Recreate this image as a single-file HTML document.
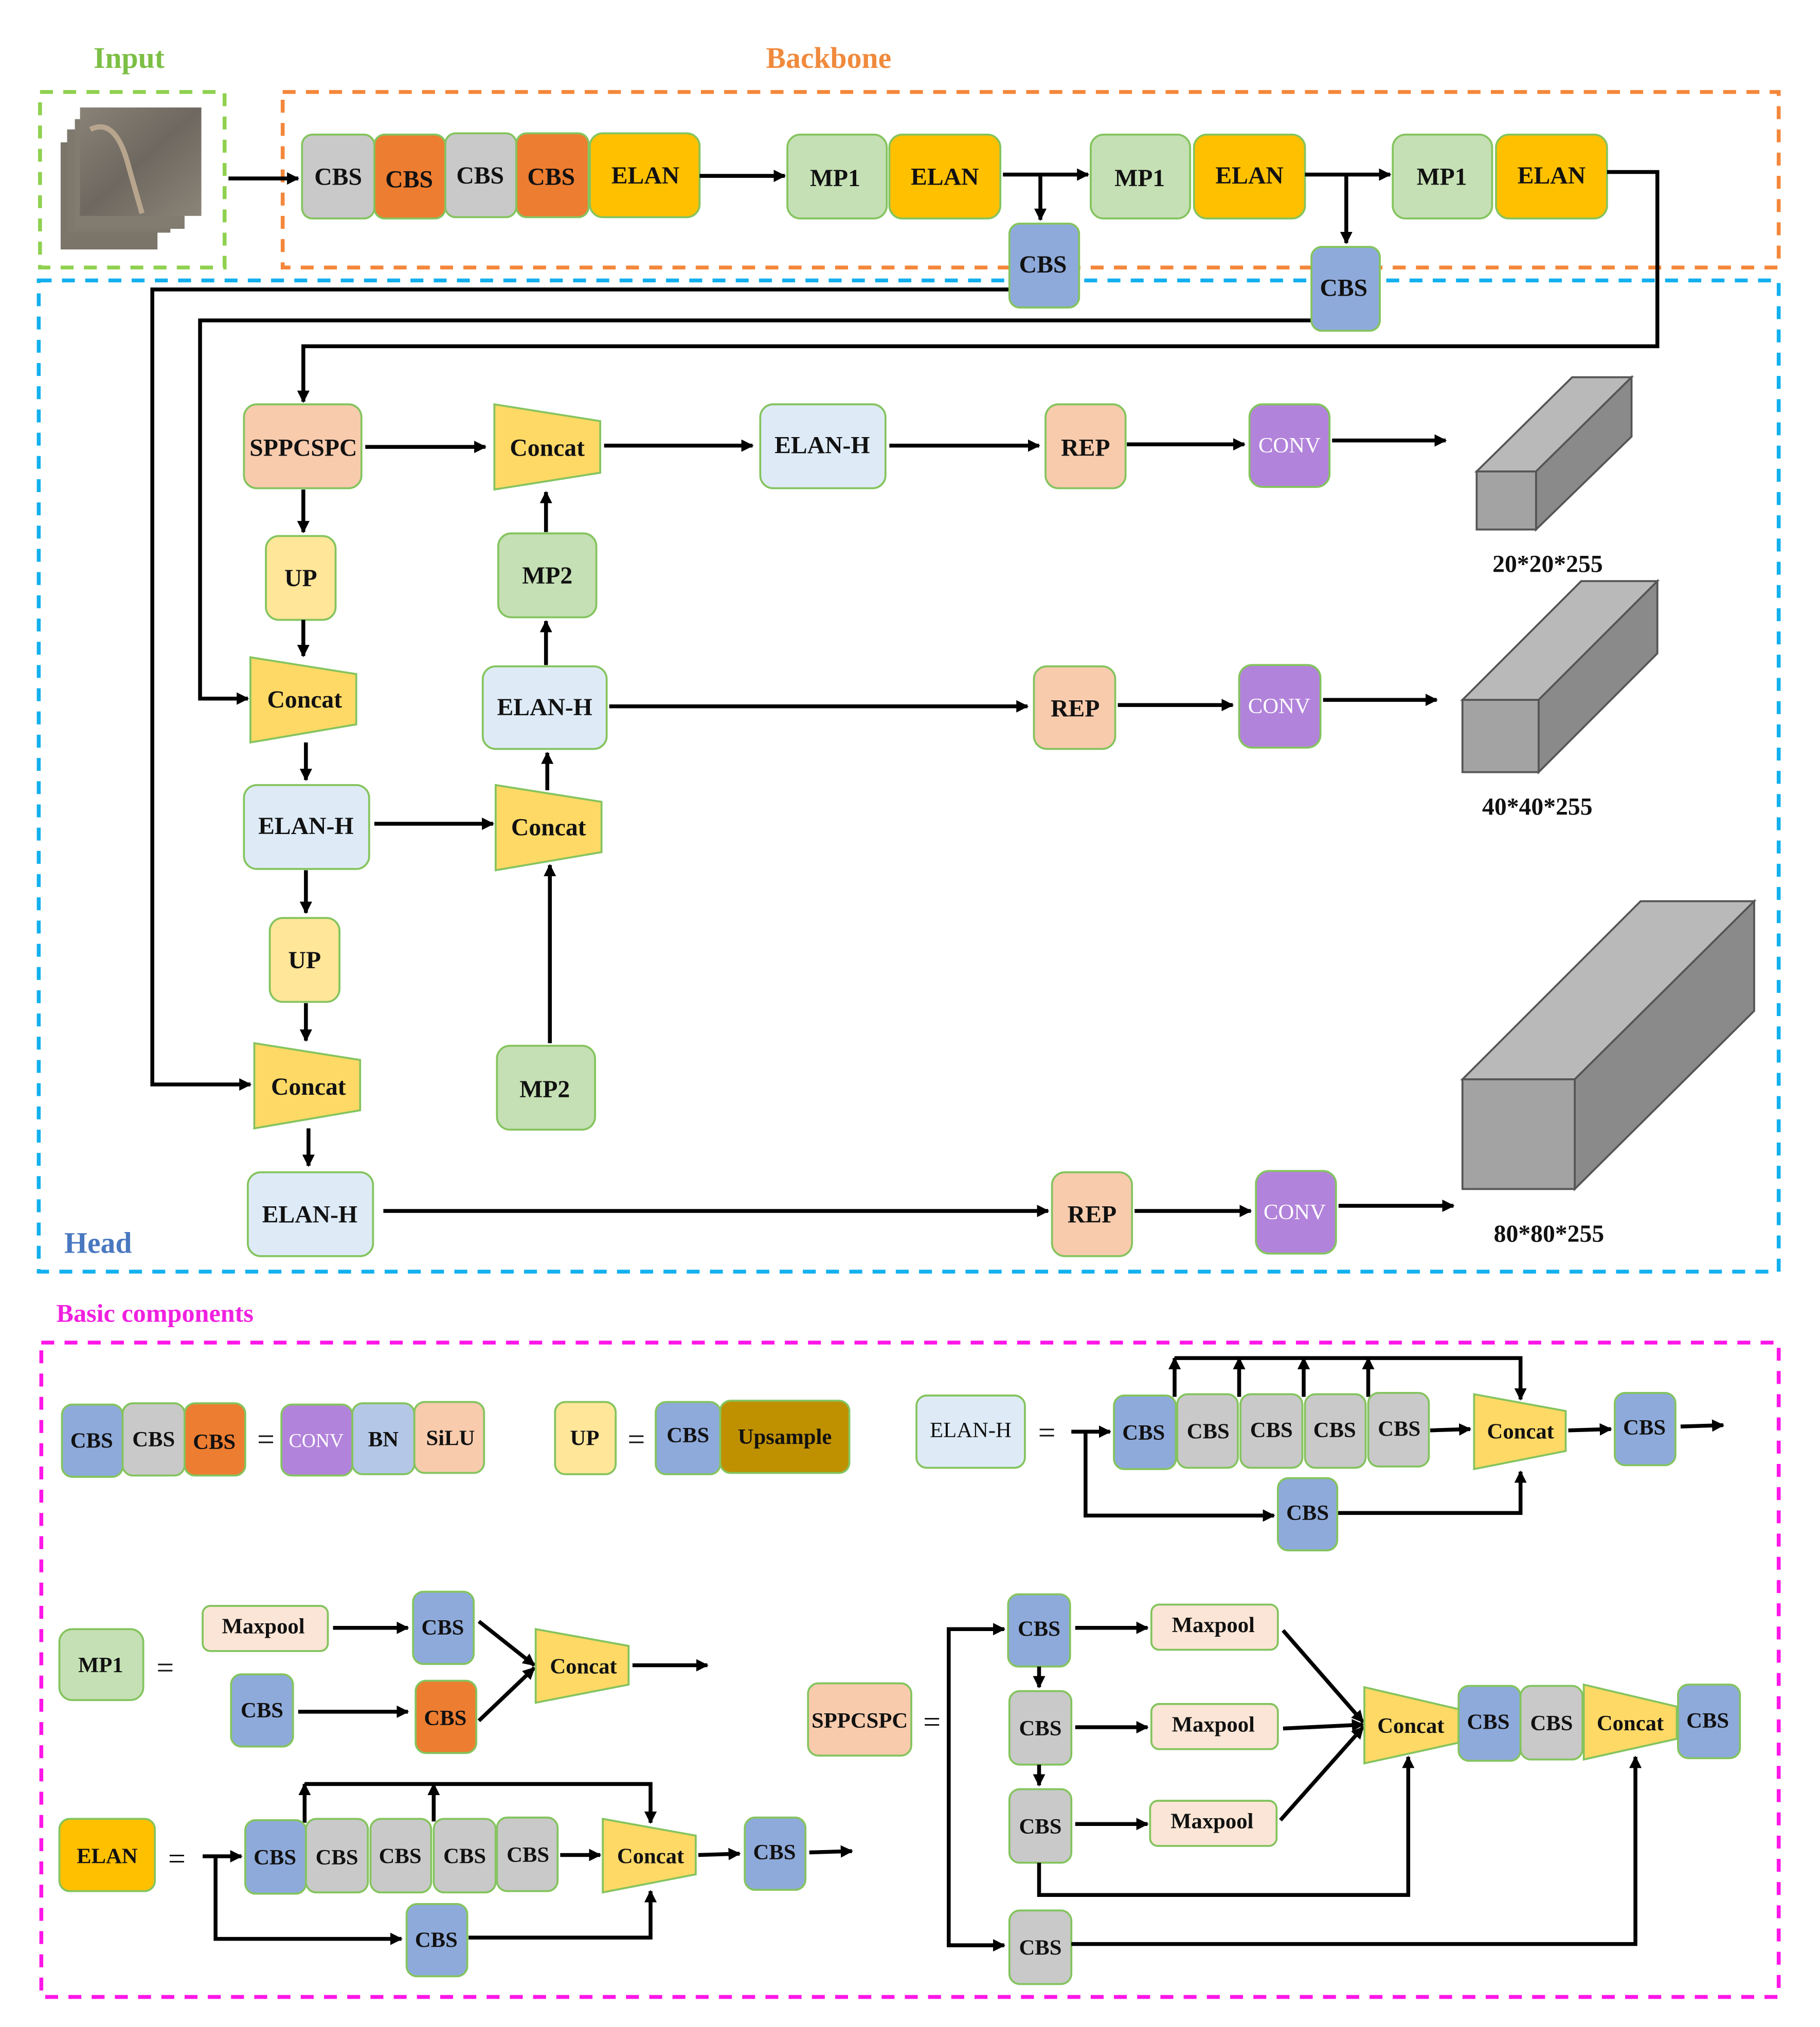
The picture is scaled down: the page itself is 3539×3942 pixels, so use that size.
<!DOCTYPE html>
<html><head><meta charset="utf-8"><style>
html,body{margin:0;padding:0;background:#fff}
svg{display:block}
text{font-family:"Liberation Serif","DejaVu Serif",serif;text-anchor:middle;dominant-baseline:central;fill:#111;font-weight:bold}
.b{stroke:#84c45e;stroke-width:1.5}
.l{stroke:#000;stroke-width:3;fill:none}
.t{font-size:19px}
.s{font-size:17px}
</style></head><body>
<svg width="3539" height="3942" viewBox="0 0 1410 1570" xmlns="http://www.w3.org/2000/svg" font-family="Liberation Serif, serif">
<defs>
<marker id="a" viewBox="0 0 10 10" refX="9" refY="5" markerWidth="3.2" markerHeight="3.2" orient="auto"><path d="M0,0L10,5L0,10z" fill="#000"/></marker>
<linearGradient id="img" x1="0" y1="0" x2="1" y2="1"><stop offset="0" stop-color="#8a8277"/><stop offset="0.5" stop-color="#6e6860"/><stop offset="1" stop-color="#8b8478"/></linearGradient>
</defs>
<rect width="1410" height="1570" fill="#fff"/>
<text x="100" y="45" style="font-size:23px;fill:#7cbf45">Input</text>
<text x="642" y="45" style="font-size:23px;fill:#f08a3c">Backbone</text>
<text x="76" y="963" style="font-size:23px;fill:#4a78c0">Head</text>
<text x="120" y="1017" style="font-size:20px;fill:#f020e0">Basic components</text>
<rect x="31" y="71" width="143" height="136" fill="none" stroke="#8fd14f" stroke-width="3" stroke-dasharray="10,8"/>
<rect x="219" y="71" width="1159" height="136" fill="none" stroke="#f4873a" stroke-width="3" stroke-dasharray="10,8"/>
<rect x="30" y="217" width="1348" height="768" fill="none" stroke="#12b0ee" stroke-width="3" stroke-dasharray="10,8"/>
<rect x="32" y="1040" width="1346" height="507" fill="none" stroke="#ff16e8" stroke-width="3" stroke-dasharray="10,8"/>
<rect x="47" y="110" width="75" height="83" fill="#7a7469"/>
<rect x="52" y="100" width="80" height="80" fill="#7f786d"/>
<rect x="58" y="92" width="85" height="85" fill="#827b70"/>
<rect x="62" y="83" width="94" height="84" fill="url(#img)"/>
<path d="M70,100 Q90,90 100,130 L110,165" stroke="#b8a58e" stroke-width="4" fill="none"/>
<line class="l" x1="177" y1="138" x2="231" y2="138" marker-end="url(#a)"/>
<rect class="b" x="234" y="104" width="56" height="65" rx="8" fill="#c9c9c9"/><text class="t" x="262" y="137">CBS</text>
<rect class="b" x="290" y="104" width="55" height="65" rx="8" fill="#ed7d31"/><text class="t" x="317" y="139">CBS</text>
<rect class="b" x="345" y="103" width="55" height="65" rx="8" fill="#c9c9c9"/><text class="t" x="372" y="136">CBS</text>
<rect class="b" x="400" y="103" width="56" height="65" rx="8" fill="#ed7d31"/><text class="t" x="427" y="137">CBS</text>
<rect class="b" x="457" y="103" width="85" height="65" rx="10" fill="#ffc000"/><text class="t" x="500" y="136">ELAN</text>
<line class="l" x1="542" y1="136" x2="608" y2="136" marker-end="url(#a)"/>
<rect class="b" x="610" y="104" width="77" height="65" rx="10" fill="#c5e0b4"/><text class="t" x="647" y="138">MP1</text>
<rect class="b" x="689" y="104" width="86" height="65" rx="10" fill="#ffc000"/><text class="t" x="732" y="137">ELAN</text>
<line class="l" x1="777" y1="135" x2="843" y2="135" marker-end="url(#a)"/>
<line class="l" x1="806" y1="135" x2="806" y2="170" marker-end="url(#a)"/>
<rect class="b" x="845" y="104" width="77" height="65" rx="10" fill="#c5e0b4"/><text class="t" x="883" y="138">MP1</text>
<rect class="b" x="925" y="104" width="86" height="65" rx="10" fill="#ffc000"/><text class="t" x="968" y="136">ELAN</text>
<line class="l" x1="1011" y1="135" x2="1077" y2="135" marker-end="url(#a)"/>
<line class="l" x1="1043" y1="135" x2="1043" y2="188" marker-end="url(#a)"/>
<rect class="b" x="1079" y="104" width="77" height="65" rx="10" fill="#c5e0b4"/><text class="t" x="1117" y="137">MP1</text>
<rect class="b" x="1159" y="104" width="86" height="65" rx="10" fill="#ffc000"/><text class="t" x="1202" y="136">ELAN</text>
<polyline class="l" points="1245,133 1284,133 1284,268 235,268 235,311" marker-end="url(#a)"/>
<polyline class="l" points="784,224 118,224 118,840 194,840" marker-end="url(#a)"/>
<polyline class="l" points="1018,248 155,248 155,541 192,541" marker-end="url(#a)"/>
<rect class="b" x="782" y="173" width="54" height="65" rx="8" fill="#8eaadb"/><text class="t" x="808" y="205">CBS</text>
<rect class="b" x="1016" y="191" width="53" height="65" rx="8" fill="#8eaadb"/><text class="t" x="1041" y="223">CBS</text>
<rect class="b" x="189" y="313" width="91" height="65" rx="10" fill="#f8cbad"/><text class="t" x="235" y="347">SPPCSPC</text>
<line class="l" x1="283" y1="346" x2="376" y2="346" marker-end="url(#a)"/>
<polygon class="b" points="383,313 465,326 465,366 383,379" fill="#ffd966"/><text class="t" x="424" y="347">Concat</text>
<line class="l" x1="468" y1="345" x2="583" y2="345" marker-end="url(#a)"/>
<rect class="b" x="589" y="313" width="97" height="65" rx="10" fill="#deebf7"/><text class="t" x="637" y="345">ELAN-H</text>
<line class="l" x1="689" y1="345" x2="805" y2="345" marker-end="url(#a)"/>
<rect class="b" x="810" y="313" width="62" height="65" rx="10" fill="#f8cbad"/><text class="t" x="841" y="347">REP</text>
<line class="l" x1="873" y1="344" x2="964" y2="344" marker-end="url(#a)"/>
<rect class="b" x="968" y="313" width="62" height="64" rx="10" fill="#b283db"/><text class="s" x="999" y="345" style="fill:#fff;font-weight:normal">CONV</text>
<line class="l" x1="1032" y1="341" x2="1120" y2="341" marker-end="url(#a)"/>
<polygon points="1144,365 1218,292 1264,292 1190,365" fill="#b9b9b9" stroke="#555" stroke-width="1.5"/>
<polygon points="1190,365 1264,292 1264,338 1190,410" fill="#8a8a8a" stroke="#555" stroke-width="1.5"/>
<rect x="1144" y="365" width="46" height="45" fill="#a3a3a3" stroke="#555" stroke-width="1.5"/>
<text class="t" x="1199" y="437">20*20*255</text>
<line class="l" x1="235" y1="379" x2="235" y2="412" marker-end="url(#a)"/>
<rect class="b" x="206" y="415" width="54" height="65" rx="10" fill="#ffe699"/><text class="t" x="233" y="448">UP</text>
<line class="l" x1="235" y1="480" x2="235" y2="508" marker-end="url(#a)"/>
<polygon class="b" points="194,509 276,522 276,561 194,575" fill="#ffd966"/><text class="t" x="236" y="542">Concat</text>
<rect class="b" x="386" y="413" width="76" height="65" rx="10" fill="#c5e0b4"/><text class="t" x="424" y="446">MP2</text>
<line class="l" x1="423" y1="412" x2="423" y2="381" marker-end="url(#a)"/>
<line class="l" x1="423" y1="515" x2="423" y2="481" marker-end="url(#a)"/>
<rect class="b" x="374" y="516" width="96" height="64" rx="10" fill="#deebf7"/><text class="t" x="422" y="548">ELAN-H</text>
<line class="l" x1="472" y1="547" x2="796" y2="547" marker-end="url(#a)"/>
<rect class="b" x="801" y="516" width="63" height="64" rx="10" fill="#f8cbad"/><text class="t" x="833" y="549">REP</text>
<line class="l" x1="866" y1="546" x2="955" y2="546" marker-end="url(#a)"/>
<rect class="b" x="960" y="515" width="63" height="64" rx="10" fill="#b283db"/><text class="s" x="991" y="547" style="fill:#fff;font-weight:normal">CONV</text>
<line class="l" x1="1025" y1="542" x2="1113" y2="542" marker-end="url(#a)"/>
<polygon points="1133,542 1225,450 1284,450 1192,542" fill="#b9b9b9" stroke="#555" stroke-width="1.5"/>
<polygon points="1192,542 1284,450 1284,506 1192,598" fill="#8a8a8a" stroke="#555" stroke-width="1.5"/>
<rect x="1133" y="542" width="59" height="56" fill="#a3a3a3" stroke="#555" stroke-width="1.5"/>
<text class="t" x="1191" y="625">40*40*255</text>
<line class="l" x1="237" y1="575" x2="237" y2="604" marker-end="url(#a)"/>
<rect class="b" x="189" y="608" width="97" height="65" rx="10" fill="#deebf7"/><text class="t" x="237" y="640">ELAN-H</text>
<line class="l" x1="290" y1="638" x2="382" y2="638" marker-end="url(#a)"/>
<polygon class="b" points="384,608 466,621 466,660 384,674" fill="#ffd966"/><text class="t" x="425" y="641">Concat</text>
<line class="l" x1="424" y1="612" x2="424" y2="583" marker-end="url(#a)"/>
<rect class="b" x="385" y="810" width="76" height="65" rx="10" fill="#c5e0b4"/><text class="t" x="422" y="844">MP2</text>
<line class="l" x1="426" y1="808" x2="426" y2="670" marker-end="url(#a)"/>
<line class="l" x1="237" y1="674" x2="237" y2="707" marker-end="url(#a)"/>
<rect class="b" x="209" y="711" width="54" height="65" rx="10" fill="#ffe699"/><text class="t" x="236" y="744">UP</text>
<line class="l" x1="237" y1="777" x2="237" y2="806" marker-end="url(#a)"/>
<polygon class="b" points="197,808 279,821 279,860 197,874" fill="#ffd966"/><text class="t" x="239" y="842">Concat</text>
<line class="l" x1="239" y1="874" x2="239" y2="903" marker-end="url(#a)"/>
<rect class="b" x="192" y="908" width="97" height="65" rx="10" fill="#deebf7"/><text class="t" x="240" y="941">ELAN-H</text>
<line class="l" x1="297" y1="938" x2="812" y2="938" marker-end="url(#a)"/>
<rect class="b" x="815" y="908" width="62" height="65" rx="10" fill="#f8cbad"/><text class="t" x="846" y="941">REP</text>
<line class="l" x1="879" y1="938" x2="969" y2="938" marker-end="url(#a)"/>
<rect class="b" x="973" y="907" width="62" height="64" rx="10" fill="#b283db"/><text class="s" x="1003" y="939" style="fill:#fff;font-weight:normal">CONV</text>
<line class="l" x1="1037" y1="934" x2="1126" y2="934" marker-end="url(#a)"/>
<polygon points="1133,836 1271,698 1359,698 1220,836" fill="#b9b9b9" stroke="#555" stroke-width="1.5"/>
<polygon points="1220,836 1359,698 1359,783 1220,921" fill="#8a8a8a" stroke="#555" stroke-width="1.5"/>
<rect x="1133" y="836" width="87" height="85" fill="#a3a3a3" stroke="#555" stroke-width="1.5"/>
<text class="t" x="1200" y="956">80*80*255</text>

<rect class="b" x="48" y="1088" width="47" height="56" rx="8" fill="#8eaadb"/><text class="s" x="71" y="1116">CBS</text>
<rect class="b" x="95" y="1087" width="48" height="56" rx="8" fill="#c9c9c9"/><text class="s" x="119" y="1115">CBS</text>
<rect class="b" x="143" y="1087" width="47" height="56" rx="8" fill="#ed7d31"/><text class="s" x="166" y="1117">CBS</text>
<text x="206" y="1115" style="font-size:24px;font-weight:normal">=</text>
<rect class="b" x="218" y="1088" width="55" height="55" rx="8" fill="#b283db"/><text x="245" y="1116" style="font-size:15px;fill:#fff;font-weight:normal">CONV</text>
<rect class="b" x="273" y="1087" width="48" height="55" rx="8" fill="#b4c7e7"/><text class="s" x="297" y="1115">BN</text>
<rect class="b" x="321" y="1086" width="54" height="55" rx="8" fill="#f8cbad"/><text class="s" x="349" y="1114">SiLU</text>
<rect class="b" x="430" y="1086" width="47" height="56" rx="8" fill="#ffe699"/><text class="s" x="453" y="1114">UP</text>
<text x="493" y="1115" style="font-size:24px;font-weight:normal">=</text>
<rect class="b" x="508" y="1086" width="50" height="56" rx="8" fill="#8eaadb"/><text class="s" x="533" y="1112">CBS</text>
<rect class="b" x="558" y="1085" width="100" height="56" rx="8" fill="#bf9000"/><text class="s" x="608" y="1113">Upsample</text>
<rect class="b" x="710" y="1081" width="84" height="56" rx="8" fill="#deebf7"/><text class="s" x="752" y="1108" style="font-weight:normal">ELAN-H</text>
<text x="811" y="1110" style="font-size:24px;font-weight:normal">=</text>
<polyline class="l" points="830,1109 860,1109" marker-end="url(#a)"/>
<polyline class="l" points="841,1109 841,1174 987,1174" marker-end="url(#a)"/>
<polyline class="l" points="1036,1172 1178,1172 1178,1140" marker-end="url(#a)"/>
<polyline class="l" points="910,1052 1178,1052 1178,1084" marker-end="url(#a)"/>
<line class="l" x1="910" y1="1082" x2="910" y2="1052" marker-end="url(#a)"/>
<line class="l" x1="960" y1="1082" x2="960" y2="1052" marker-end="url(#a)"/>
<line class="l" x1="1010" y1="1082" x2="1010" y2="1052" marker-end="url(#a)"/>
<line class="l" x1="1060" y1="1082" x2="1060" y2="1052" marker-end="url(#a)"/>
<rect class="b" x="863" y="1081" width="48" height="57" rx="8" fill="#8eaadb"/><text class="s" x="886" y="1110">CBS</text>
<rect class="b" x="912" y="1080" width="47" height="57" rx="8" fill="#c9c9c9"/><text class="s" x="936" y="1109">CBS</text>
<rect class="b" x="961" y="1080" width="48" height="57" rx="8" fill="#c9c9c9"/><text class="s" x="985" y="1108">CBS</text>
<rect class="b" x="1011" y="1080" width="47" height="57" rx="8" fill="#c9c9c9"/><text class="s" x="1034" y="1108">CBS</text>
<rect class="b" x="1060" y="1079" width="47" height="57" rx="8" fill="#c9c9c9"/><text class="s" x="1084" y="1107">CBS</text>
<line class="l" x1="1108" y1="1108" x2="1139" y2="1107" marker-end="url(#a)"/>
<polygon class="b" points="1142,1080 1213,1093 1213,1124 1142,1138" fill="#ffd966"/><text class="s" x="1178" y="1109">Concat</text>
<line class="l" x1="1215" y1="1108" x2="1248" y2="1107" marker-end="url(#a)"/>
<rect class="b" x="1251" y="1079" width="47" height="56" rx="8" fill="#8eaadb"/><text class="s" x="1274" y="1106">CBS</text>
<line class="l" x1="1302" y1="1105" x2="1335" y2="1104" marker-end="url(#a)"/>
<rect class="b" x="990" y="1145" width="46" height="56" rx="8" fill="#8eaadb"/><text class="s" x="1013" y="1172">CBS</text>
<rect class="b" x="46" y="1262" width="65" height="55" rx="10" fill="#c5e0b4"/><text class="s" x="78" y="1290">MP1</text>
<text x="128" y="1292" style="font-size:24px;font-weight:normal">=</text>
<rect class="b" x="157" y="1244" width="97" height="35" rx="6" fill="#fbe5d6"/><text class="s" x="204" y="1260">Maxpool</text>
<line class="l" x1="258" y1="1261" x2="316" y2="1261" marker-end="url(#a)"/>
<rect class="b" x="320" y="1233" width="47" height="56" rx="8" fill="#8eaadb"/><text class="s" x="343" y="1261">CBS</text>
<rect class="b" x="179" y="1297" width="48" height="56" rx="8" fill="#8eaadb"/><text class="s" x="203" y="1325">CBS</text>
<line class="l" x1="231" y1="1326" x2="316" y2="1326" marker-end="url(#a)"/>
<rect class="b" x="322" y="1302" width="47" height="56" rx="8" fill="#ed7d31"/><text class="s" x="345" y="1331">CBS</text>
<line class="l" x1="371" y1="1256" x2="414" y2="1290" marker-end="url(#a)"/>
<line class="l" x1="371" y1="1333" x2="414" y2="1292" marker-end="url(#a)"/>
<polygon class="b" points="415,1262 487,1275 487,1305 415,1319" fill="#ffd966"/><text class="s" x="452" y="1291">Concat</text>
<line class="l" x1="490" y1="1290" x2="548" y2="1290" marker-end="url(#a)"/>
<rect class="b" x="46" y="1409" width="74" height="56" rx="8" fill="#ffc000"/><text class="s" x="83" y="1438">ELAN</text>
<text x="137" y="1440" style="font-size:24px;font-weight:normal">=</text>
<line class="l" x1="157" y1="1438" x2="187" y2="1438" marker-end="url(#a)"/>
<polyline class="l" points="167,1438 167,1502 311,1502" marker-end="url(#a)"/>
<polyline class="l" points="363,1501 504,1501 504,1465" marker-end="url(#a)"/>
<polyline class="l" points="236,1382 504,1382 504,1412" marker-end="url(#a)"/>
<line class="l" x1="236" y1="1412" x2="236" y2="1382" marker-end="url(#a)"/>
<line class="l" x1="336" y1="1411" x2="336" y2="1382" marker-end="url(#a)"/>
<rect class="b" x="190" y="1410" width="47" height="57" rx="8" fill="#8eaadb"/><text class="s" x="213" y="1439">CBS</text>
<rect class="b" x="237" y="1409" width="48" height="57" rx="8" fill="#c9c9c9"/><text class="s" x="261" y="1439">CBS</text>
<rect class="b" x="287" y="1409" width="47" height="57" rx="8" fill="#c9c9c9"/><text class="s" x="310" y="1438">CBS</text>
<rect class="b" x="336" y="1409" width="48" height="57" rx="8" fill="#c9c9c9"/><text class="s" x="360" y="1438">CBS</text>
<rect class="b" x="385" y="1408" width="47" height="57" rx="8" fill="#c9c9c9"/><text class="s" x="409" y="1437">CBS</text>
<line class="l" x1="434" y1="1437" x2="465" y2="1437" marker-end="url(#a)"/>
<polygon class="b" points="467,1409 539,1422 539,1452 467,1466" fill="#ffd966"/><text class="s" x="504" y="1438">Concat</text>
<line class="l" x1="541" y1="1437" x2="573" y2="1436" marker-end="url(#a)"/>
<rect class="b" x="577" y="1408" width="47" height="56" rx="8" fill="#8eaadb"/><text class="s" x="600" y="1435">CBS</text>
<line class="l" x1="627" y1="1435" x2="660" y2="1434" marker-end="url(#a)"/>
<rect class="b" x="315" y="1475" width="47" height="56" rx="8" fill="#8eaadb"/><text class="s" x="338" y="1503">CBS</text>
<rect class="b" x="626" y="1304" width="80" height="56" rx="8" fill="#f8cbad"/><text class="s" x="666" y="1333">SPPCSPC</text>
<text x="722" y="1334" style="font-size:24px;font-weight:normal">=</text>
<polyline class="l" points="777,1262 735,1262 735,1507 777,1507" />
<line class="l" x1="735" y1="1262" x2="778" y2="1262" marker-end="url(#a)"/>
<line class="l" x1="735" y1="1507" x2="778" y2="1507" marker-end="url(#a)"/>
<rect class="b" x="781" y="1235" width="48" height="56" rx="8" fill="#8eaadb"/><text class="s" x="805" y="1262">CBS</text>
<line class="l" x1="805" y1="1291" x2="805" y2="1307" marker-end="url(#a)"/>
<rect class="b" x="782" y="1310" width="48" height="57" rx="8" fill="#c9c9c9"/><text class="s" x="806" y="1339">CBS</text>
<line class="l" x1="805" y1="1367" x2="805" y2="1383" marker-end="url(#a)"/>
<rect class="b" x="782" y="1386" width="48" height="57" rx="8" fill="#c9c9c9"/><text class="s" x="806" y="1415">CBS</text>
<polyline class="l" points="805,1443 805,1468 1091,1468 1091,1361" marker-end="url(#a)"/>
<rect class="b" x="782" y="1480" width="48" height="57" rx="8" fill="#c9c9c9"/><text class="s" x="806" y="1509">CBS</text>
<polyline class="l" points="830,1506 1267,1506 1267,1361" marker-end="url(#a)"/>
<line class="l" x1="833" y1="1261" x2="889" y2="1261" marker-end="url(#a)"/>
<line class="l" x1="833" y1="1338" x2="889" y2="1338" marker-end="url(#a)"/>
<line class="l" x1="833" y1="1413" x2="889" y2="1413" marker-end="url(#a)"/>
<rect class="b" x="892" y="1243" width="98" height="35" rx="6" fill="#fbe5d6"/><text class="s" x="940" y="1259">Maxpool</text>
<rect class="b" x="892" y="1320" width="98" height="35" rx="6" fill="#fbe5d6"/><text class="s" x="940" y="1336">Maxpool</text>
<rect class="b" x="891" y="1395" width="98" height="35" rx="6" fill="#fbe5d6"/><text class="s" x="939" y="1411">Maxpool</text>
<line class="l" x1="994" y1="1263" x2="1056" y2="1334" marker-end="url(#a)"/>
<line class="l" x1="994" y1="1339" x2="1056" y2="1336" marker-end="url(#a)"/>
<line class="l" x1="992" y1="1410" x2="1056" y2="1338" marker-end="url(#a)"/>
<polygon class="b" points="1057,1307 1130,1324 1130,1350 1057,1366" fill="#ffd966"/><text class="s" x="1093" y="1337">Concat</text>
<rect class="b" x="1130" y="1306" width="48" height="58" rx="8" fill="#8eaadb"/><text class="s" x="1153" y="1334">CBS</text>
<rect class="b" x="1178" y="1306" width="48" height="57" rx="8" fill="#c9c9c9"/><text class="s" x="1202" y="1335">CBS</text>
<polygon class="b" points="1227,1305 1299,1322 1299,1347 1227,1363" fill="#ffd966"/><text class="s" x="1263" y="1335">Concat</text>
<rect class="b" x="1300" y="1305" width="48" height="57" rx="8" fill="#8eaadb"/><text class="s" x="1323" y="1333">CBS</text>
</svg>
</body></html>
